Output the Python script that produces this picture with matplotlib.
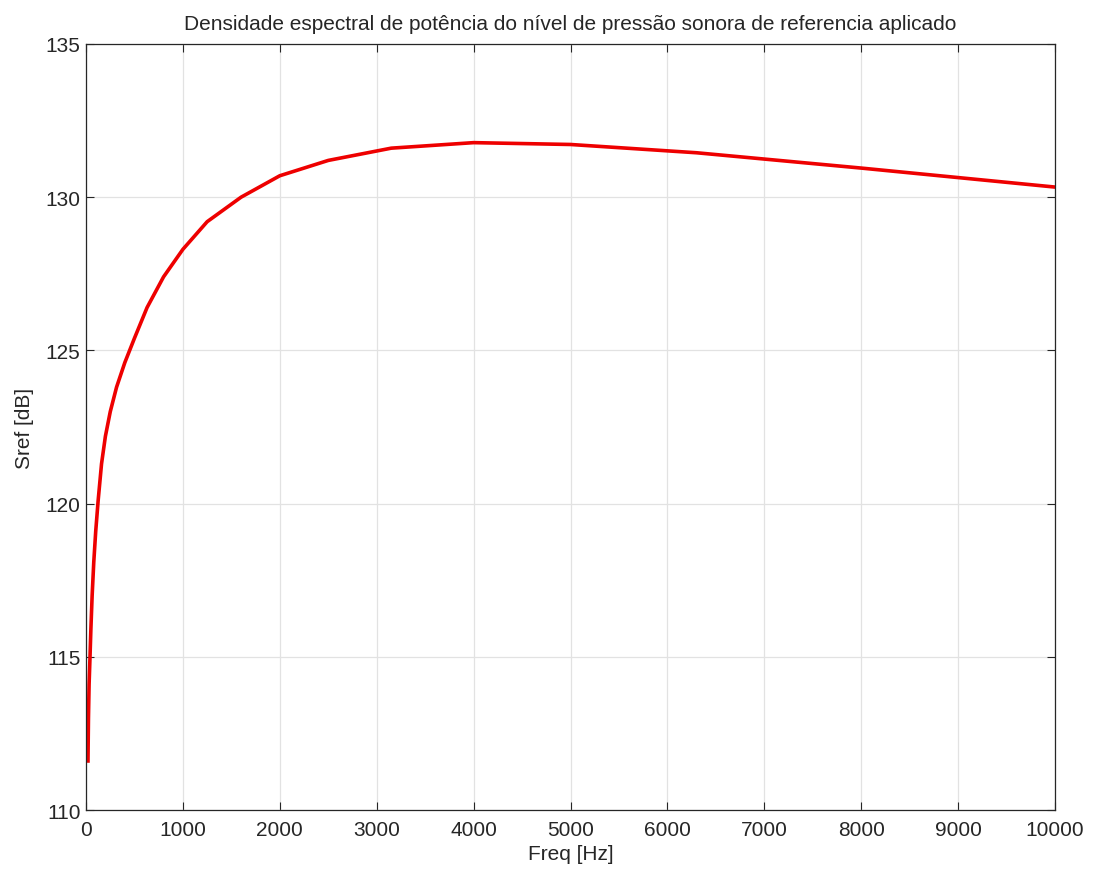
import numpy as np
import matplotlib
matplotlib.use("Agg")
import matplotlib.pyplot as plt

plt.rcParams['font.family'] = ['Liberation Sans', 'DejaVu Sans']

# third-octave band centre frequencies [Hz]
freq = [20, 25, 31.5, 40, 50, 63, 80, 100, 125, 160, 200, 250, 315, 400,
        500, 630, 800, 1000, 1250, 1600, 2000, 2500, 3150, 4000, 5000,
        6300, 8000, 10000]
# reference sound pressure level spectral density [dB]
sref = [111.6, 113.0, 114.1, 114.9, 115.9, 117.0, 118.1, 119.1, 120.1,
        121.3, 122.2, 123.0, 123.8, 124.6, 125.4, 126.4, 127.4, 128.3,
        129.2, 130.0, 130.7, 131.2, 131.6, 131.78, 131.72, 131.45, 130.95,
        130.33]

xticks = list(range(0, 10001, 1000))
yticks = [110, 115, 120, 125, 130, 135]

fig = plt.figure(figsize=(10.96, 8.70), dpi=100)
ax = fig.add_axes([0.0785, 0.0678, 0.8841, 0.8805])

ax.plot(freq, sref, color='#ee0000', linewidth=2.6)

ax.set_xlim(0, 10000)
ax.set_ylim(110, 135)
ax.set_xticks(xticks)
ax.set_yticks(yticks)
ax.grid(True, color='#e2e2e2', linewidth=0.9)
ax.set_axisbelow(True)
ax.tick_params(direction='in', top=True, right=True, length=6,
               labelsize=15, colors='#262626', width=0.8)
ax.tick_params(axis='x', pad=7)
ax.tick_params(axis='y', pad=4)
for s in ax.spines.values():
    s.set_color('#262626')
    s.set_linewidth(0.9)

ax.set_xlabel('Freq [Hz]', fontsize=15, color='#262626', labelpad=4)
ax.set_ylabel('Sref [dB]', fontsize=15, color='#262626', labelpad=8)
ax.set_title('Densidade espectral de potência do nível de pressão sonora de referencia aplicado',
             fontsize=15, color='#262626', pad=11)

fig.savefig('out.png', dpi=100)
